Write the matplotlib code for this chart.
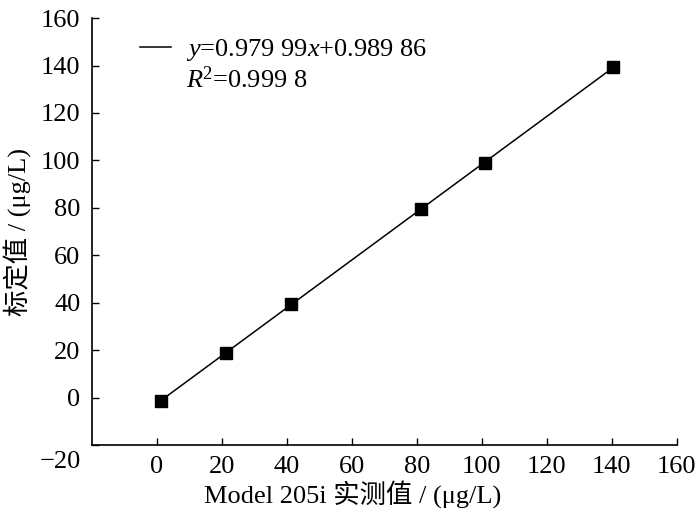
import numpy as np
import matplotlib
matplotlib.use('Agg')
from matplotlib import pyplot as plt
from matplotlib.lines import Line2D
from matplotlib.transforms import ScaledTranslation

measured = [1.2, 21.3, 41.2, 81.3, 100.9, 140.4]
standard = [-1.3, 18.8, 39.5, 79.4, 98.9, 139.4]

xticks = [0, 20, 40, 60, 80, 100, 120, 140, 160]
yticks = [-20, 0, 20, 40, 60, 80, 100, 120, 140, 160]

eq_text = r'$y$=0.979 99$x$+0.989 86'
r2_text = r'$R$$^2$=0.999 8'

plt.rcParams['font.family'] = ['Liberation Serif', 'Noto Sans CJK SC']
plt.rcParams['mathtext.fontset'] = 'custom'
plt.rcParams['mathtext.rm'] = 'Liberation Serif'
plt.rcParams['mathtext.it'] = 'Liberation Serif:italic'

fig = plt.figure(figsize=(7.0, 5.17), dpi=100)
ax = fig.add_axes([0.131, 0.139, 0.836, 0.826])

x = np.array(measured)
y = np.array(standard)
coef = np.polyfit(x, y, 1)
xl = np.array([x[0], x[-1]])
ax.plot(xl, np.polyval(coef, xl), '-', color='black', lw=1.1)
ax.plot(x, y, 's', color='black', ms=8)

ax.set_xlim(-20, 160)
ax.set_ylim(-20, 160)
ax.set_xticks(xticks)
ax.set_yticks(yticks)
ax.tick_params(direction='in', length=5, width=1.0, labelsize=19, pad=8)

for s in ['top', 'right']:
    ax.spines[s].set_visible(False)
for s in ['left', 'bottom']:
    ax.spines[s].set_linewidth(1.2)

# the -20 label sits a bit below the axis in the original
lab = ax.yaxis.get_major_ticks()[0].label1
lab.set_transform(lab.get_transform() + ScaledTranslation(0, -0.14, fig.dpi_scale_trans))

ax.set_xlabel('Model 205i 实测值 / (μg/L)', fontsize=19, labelpad=1, x=0.446)
ax.set_ylabel('标定值 / (μg/L)', fontsize=19, labelpad=6)

handles = [Line2D([], [], color='black', lw=1.1),
           Line2D([], [], color='none')]
ax.legend(handles, [eq_text, r2_text], loc='upper left',
          bbox_to_anchor=(0.082, 0.956), frameon=False, fontsize=19,
          handlelength=1.2, handletextpad=0.57, labelspacing=0.15,
          borderaxespad=0, borderpad=0)

fig.savefig('out.png', dpi=100)
plt.close(fig)
